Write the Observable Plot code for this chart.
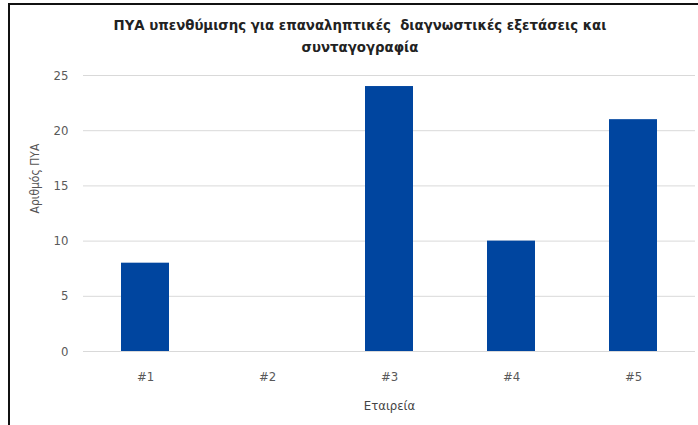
<!DOCTYPE html>
<html>
<head>
<meta charset="utf-8">
<script src="https://cdn.jsdelivr.net/npm/d3@7"></script>
<script src="https://cdn.jsdelivr.net/npm/@observablehq/plot@0.6"></script>
<style>
  html, body { margin: 0; padding: 0; background: #fff; }
  #frame {
    position: relative; width: 698px; height: 425px; overflow: hidden;
    background: #fff; font-family: "DejaVu Sans Condensed", "DejaVu Sans", sans-serif;
  }
  #border {
    position: absolute; left: 8px; top: 3px; width: 700px; height: 430px;
    border-left: 2px solid #111; border-top: 2px solid #111; box-sizing: border-box;
  }
  #title {
    position: absolute; left: 0; top: 14px; width: 720px; text-align: center;
    font-weight: bold; font-size: 14.8px; line-height: 22px; color: #222;
  }
  #chart { position: absolute; left: 0; top: 60px; }
</style>
</head>
<body>
<div id="frame">
  <div id="border"></div>
  <div id="title">ΠΥΑ υπενθύμισης για επαναληπτικές&nbsp; διαγνωστικές εξετάσεις και<br>συνταγογραφία</div>
  <div id="chart"></div>
</div>
<script>
// Reminder notices per company
const companies = ["#1", "#2", "#3", "#4", "#5"];
const counts = [8, 0, 24, 10, 21];
const yTicks = [0, 5, 10, 15, 20, 25];

const data = companies.map((c, i) => ({company: c, count: counts[i]}));

const font = '"DejaVu Sans Condensed", "DejaVu Sans", sans-serif';

const plot = Plot.plot({
  width: 698,
  height: 365,
  marginTop: 15,
  marginBottom: 74,
  marginLeft: 83,
  marginRight: 3,
  style: {fontFamily: font, fontSize: "13px", color: "#595959", background: "transparent"},
  x: {domain: companies, paddingInner: 0.61, paddingOuter: 0.305, label: null},
  y: {domain: [0, 25], ticks: yTicks, label: null},
  marks: [
    Plot.gridY(yTicks, {stroke: "#d9d9d9", strokeOpacity: 1, strokeWidth: 1}),
    Plot.barY(data, {x: "company", y: "count", fill: "#00459f"}),
    Plot.axisY(yTicks, {tickSize: 0, tickPadding: 15, fontSize: 13}),
    Plot.axisX({tickSize: 0, tickPadding: 20, fontSize: 13}),
    Plot.text(["Εταιρεία"], {frameAnchor: "bottom", dy: 58, fontSize: 13, fill: "#444"}),
    Plot.text(["Αριθμός ΠΥΑ"], {frameAnchor: "left", rotate: -90, dx: -48, fontSize: 12, fill: "#555"})
  ]
});
document.getElementById("chart").appendChild(plot);
</script>
</body>
</html>
